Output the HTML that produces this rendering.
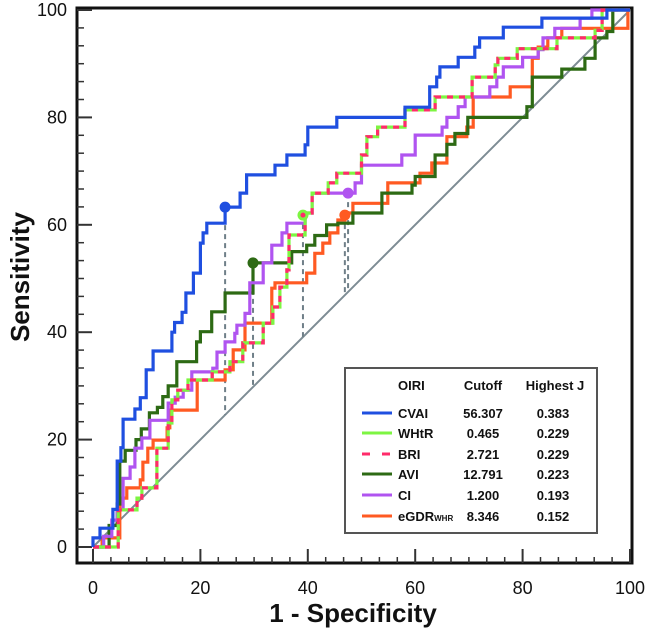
<!DOCTYPE html>
<html><head><meta charset="utf-8"><style>
html,body{margin:0;padding:0;background:#fff;}
svg{display:block;font-family:"Liberation Sans",Arial,sans-serif;}
</style></head><body>
<svg id="chart" width="650" height="636" viewBox="0 0 650 636">
<g id="axes"></g>
<g id="series"></g>
<g id="legend">
<rect x="345" y="368" width="252" height="165" fill="#fff" stroke="#555" stroke-width="2"/>
<g font-weight="bold" font-size="13" fill="#111">
<text x="398" y="390">OIRI</text>
<text x="483" y="390" text-anchor="middle">Cutoff</text>
<text x="555" y="390" text-anchor="middle">Highest J</text>
</g>
<g id="legrows" font-weight="bold" font-size="13" fill="#111"></g>
</g>
</svg>
<script>
const ticksMajor=[0,20,40,60,80,100];
const names=["CVAI","WHtR","BRI","AVI","CI","eGDR"];
const cutoffs=["56.307","0.465","2.721","12.791","1.200","8.346"];
const highestJ=["0.383","0.229","0.229","0.223","0.193","0.152"];
// step curves: at each x break the curve rises to the given sensitivity level
const cvaiX=[0,1.3,3.7,4.5,5.2,5.6,7.8,8.8,9.9,11.2,14.7,15.2,16.6,17.3,18.7,20,20.5,21.2,24.6,27.4,28.6,33.9,36.1,39.5,40,45.4,58.1,62.7,64,64.6,68,71.1,72,76.4,83.6,95.7];
const cvaiY=[1.7,3.5,7,16,18.5,23.8,25.7,27.8,33,36.5,40,41.8,43.7,47.3,51,56.6,58.5,60.3,63.3,65.9,69.3,71.1,73,74.9,78.2,80,81.9,85.7,87.5,89.4,91.2,93.1,94.8,96.8,98.5,100];
const whtrX=[4.7,8.2,9.1,11.9,14,14.7,15.8,17.7,22.2,25.5,27.9,31.7,33.5,34.8,36.1,36.5,39.5,40.8,43.8,45.4,50,51,53,58.1,63.7,70.6,74.9,75.4,79,86.4,93.5,94.8];
const whtrY=[6.9,9.1,11,18.4,23.1,27.4,29.2,31.1,32.6,34.5,38,41.7,44.7,48.4,51.6,58.1,62.2,65.9,67.8,69.6,73,76.4,78.2,81.4,83.8,87.5,89.8,91,92.8,94.8,96.2,100];
const aviX=[3,4.5,5,6,8,9,10.5,12,13,14,15.6,19.3,20,22.1,24.6,29.8,37,39.8,41.3,43.5,45.6,48.4,53.8,59.4,60,63.7,65.9,67.4,69.8,80.8,81.8,87.3,91.6,93.5,95.7,96.8];
const aviY=[4,8,16,18,20,22,25,26,28,30,34.5,38.2,40.1,43.8,47.3,52.9,55,56.2,58,60,60.3,62.2,65.9,67.4,69,73,75,77,80,82,87.5,89,91,94.8,96,100];
const ciX=[2,3.5,4.5,5.6,6.9,7.8,9.1,10.6,14,15.3,16.8,18.4,22.3,23.1,24.6,26.4,26.8,28.3,29.2,31.7,33.3,35.2,36.1,39.5,40.8,48.8,50,57.5,60,65,65.9,68,69.3,73.9,75.2,76.4,80,82.9,83.8,86,90.7,92.9];
const ciY=[2,5,6.9,12.8,14.9,18.4,20.3,23.6,26.8,27.9,29.2,32.6,33.3,36.3,38.2,39.8,41.3,43.5,49.2,52.9,56.2,58.5,60.3,62.2,65.9,67.8,71.1,73,76.7,78.2,80,82,83.8,85.7,87.5,89.4,91.2,92.6,94.8,96.6,98.5,100];
const egdrX=[1.7,5,6.3,8.8,9.3,10.2,11.2,13.8,14.3,19.4,24.6,26.1,28.3,33.3,33.9,39.8,41.3,42.8,44.1,45.6,46.9,48.4,54.9,60.9,63.1,65.9,69.6,70.8,77.7,81.8,82.9,84.7,87.3,99.6];
const egdrY=[1.7,9.1,11,12.5,15.8,18.4,19.9,22.2,25.5,31.1,33,36.7,41.7,48.2,49.2,51,54.7,56.6,58.5,60.9,62.2,64,67.8,69.6,71.5,76.4,78.2,83.8,85.7,91,93.1,94.8,96.6,100];
const dotsX=[24.6,39.1,39.1,29.8,47.5,46.9];
const dotsY=[63.3,61.8,61.8,52.9,65.9,61.8];

const X0=93,Y0=547,S=5.37;
const sx=v=>X0+v*S, sy=v=>Y0-v*S;
const NS="http://www.w3.org/2000/svg";
function mk(tag,attrs,parent){const e=document.createElementNS(NS,tag);for(const k in attrs)e.setAttribute(k,attrs[k]);parent.appendChild(e);return e;}
const axes=document.getElementById('axes'), ser=document.getElementById('series');

let fr=mk('rect',{x:77,y:8,width:555,height:555,fill:'none',stroke:'#111','stroke-width':3},axes);


for(let i=0;i<=30;i++){
  const v=i*100/30, maj=(i%6===0);
  let t1=mk('line',{x1:sx(v),x2:sx(v),y1:563,y2:maj?549:557,stroke:'#333','stroke-width':maj?2:1.5},axes);
  
  
  let t2=mk('line',{x1:77,x2:maj?92:84,y1:sy(v),y2:sy(v),stroke:'#333','stroke-width':maj?2:1.5},axes);
  
  
}
ticksMajor.forEach(v=>{
  let a=mk('text',{x:sx(v),y:594,'text-anchor':'middle','font-size':18,fill:'#111'},axes);a.textContent=v;
  
  
  let b=mk('text',{x:67,y:sy(v)+6,'text-anchor':'end','font-size':18,fill:'#111'},axes);b.textContent=v;
  
  
});
let xt=mk('text',{x:353,y:622,'text-anchor':'middle','font-size':26,'font-weight':'bold',fill:'#111'},axes);xt.textContent='1 - Specificity';


let yt=mk('text',{x:0,y:0,'text-anchor':'middle','font-size':26,'font-weight':'bold',fill:'#111',transform:'translate(29,277) rotate(-90)'},axes);yt.textContent='Sensitivity';


let dg=mk('line',{x1:sx(0),y1:sy(0),x2:sx(100),y2:sy(100),stroke:'#7d8c94','stroke-width':2},ser);


const colors=['#1f4fe0','#7df542','#ff2b6a','#2d6a14','#b054f0','#ff5a22'];
[0,1,3,4,5].forEach(i=>{
  let l=mk('line',{x1:sx(dotsX[i]),x2:sx(dotsX[i]),y1:sy(dotsY[i]),y2:sy(dotsX[i]),stroke:'#6f7f88','stroke-width':2,'stroke-dasharray':'5,4'},ser);
  
  
});
function stepPts(xs,ys){
  const p=[[0,0]];let prev=0;
  xs.forEach((x,i)=>{p.push([x,prev]);p.push([x,ys[i]]);prev=ys[i];});
  p.push([100,prev]);
  return p.map(q=>sx(q[0]).toFixed(1)+','+sy(q[1]).toFixed(1)).join(' ');
}
const order=[[egdrX,egdrY,5],[aviX,aviY,3],[ciX,ciY,4],[whtrX,whtrY,1],[whtrX,whtrY,2],[cvaiX,cvaiY,0]];
order.forEach(([xs,ys,i])=>{
  const a={points:stepPts(xs,ys),fill:'none',stroke:colors[i],'stroke-width':3.2,'stroke-linejoin':'miter'};
  if(i===2)a['stroke-dasharray']='6,6';
  let p=mk('polyline',a,ser);
  
  
});
[5,3,4,1,0].forEach(i=>{
  let c=mk('circle',{cx:sx(dotsX[i]),cy:sy(dotsY[i]),r:5.5,fill:colors[i]},ser);
  
  
  if(i===1){let c2=mk('circle',{cx:sx(dotsX[2]),cy:sy(dotsY[2]),r:2.5,fill:colors[2]},ser);
    
    }
});
const lr=document.getElementById('legrows');
const rowY=[413,433,454,474,495,516];
names.forEach((n,i)=>{
  const y=rowY[i];
  const a={x1:362,x2:392,y1:y,y2:y,stroke:colors[i],'stroke-width':3};
  if(i===2)a['stroke-dasharray']='8,12';
  let l=mk('line',a,lr);
  
  
  let t=mk('text',{x:398,y:y+5},lr);
  
  
  if(n==='eGDR'){t.textContent='eGDR';let s=mk('tspan',{'font-size':8},t);s.textContent='WHR';}
  else t.textContent=n;
  let c=mk('text',{x:483,y:y+5,'text-anchor':'middle'},lr);c.textContent=cutoffs[i];
  
  
  let j=mk('text',{x:553,y:y+5,'text-anchor':'middle'},lr);j.textContent=highestJ[i];
  
  
});
</script>
</body></html>
